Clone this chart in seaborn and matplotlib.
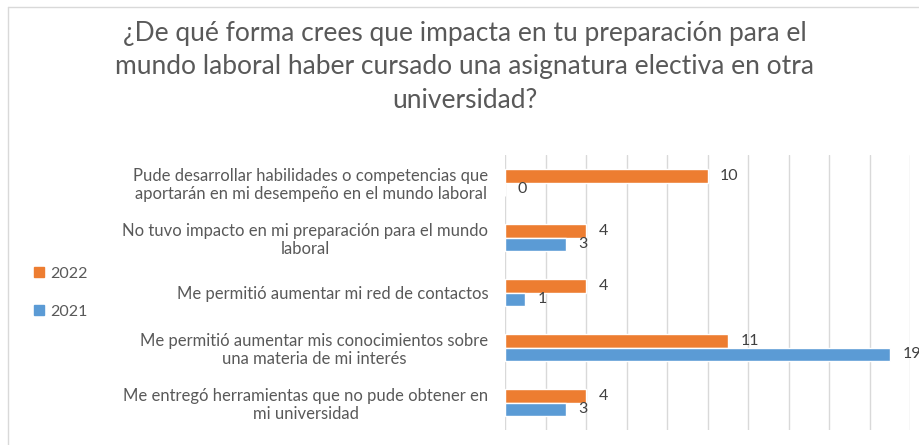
import matplotlib
matplotlib.use("Agg")
import matplotlib.pyplot as plt
from matplotlib.lines import Line2D
from matplotlib.patches import Patch
import seaborn as sns
import pandas as pd

# ----------------------------------------------------------------
# datos
# ----------------------------------------------------------------
categories = [
    "Pude desarrollar habilidades o competencias que\naportarán en mi desempeño en el mundo laboral",
    "No tuvo impacto en mi preparación para el mundo\nlaboral",
    "Me permitió aumentar mi red de contactos",
    "Me permitió aumentar mis conocimientos sobre\nuna materia de mi interés",
    "Me entregó herramientas que no pude obtener en\nmi universidad",
]
years = ["2022", "2021"]
values_2022 = [10, 4, 4, 11, 4]
values_2021 = [0, 3, 1, 19, 3]
colors = ["#ED7D31", "#5B9BD5"]

title = ("¿De qué forma crees que impacta en tu preparación para el\n"
         "mundo laboral haber cursado una asignatura electiva en otra\n"
         "universidad?")

df = pd.DataFrame({
    "categoria": categories * 2,
    "año": [years[0]] * len(categories) + [years[1]] * len(categories),
    "valor": values_2022 + values_2021,
})

sns.set_style("white")
plt.rcParams["font.family"] = ["Lato", "DejaVu Sans"]

fig = plt.figure(figsize=(9.2, 4.45), dpi=100)
ax = fig.add_axes([505 / 920, 15 / 445, 405 / 920, 275 / 445])

sns.barplot(data=df, y="categoria", x="valor", hue="año", hue_order=years,
            order=categories, palette=colors, orient="h", width=0.5,
            saturation=1, ax=ax, legend=False)

for cont in ax.containers:
    ax.bar_label(cont, padding=9, fontsize=11.5, color="#404040")

ax.set_xlim(0, 20)
ax.set_ylim(4.5, -0.5)
ax.set_xticks(range(0, 21, 2))
ax.xaxis.grid(True, color="#d9d9d9", linewidth=1)
ax.set_axisbelow(True)
ax.tick_params(axis="x", labelbottom=False, length=0)
ax.tick_params(axis="y", length=0, pad=12, labelsize=12, labelcolor="#595959")
for lbl in ax.get_yticklabels():
    lbl.set_multialignment("center")
    lbl.set_linespacing(1.15)
for s in ax.spines.values():
    s.set_visible(False)
ax.set_xlabel("")
ax.set_ylabel("")

# título
fig.text(0.505, 1 - 21 / 445, title, ha="center", va="top", fontsize=19,
         color="#595959", linespacing=1.42)

# leyenda
handles = [Patch(color=c) for c in colors]
fig.legend(handles, years, loc="center left", bbox_to_anchor=(20 / 920, 1 - 293 / 445),
           frameon=False, fontsize=11.5, labelcolor="#595959", handlelength=0.6,
           handleheight=0.6, handletextpad=0.4, labelspacing=1.5)

# borde del gráfico
fig.add_artist(Line2D([8 / 920, 1], [1 - 7 / 445] * 2, color="#d9d9d9", lw=1))
fig.add_artist(Line2D([8 / 920] * 2, [0, 1 - 7 / 445], color="#d9d9d9", lw=1))

fig.savefig("out.png", dpi=100)
plt.close(fig)
